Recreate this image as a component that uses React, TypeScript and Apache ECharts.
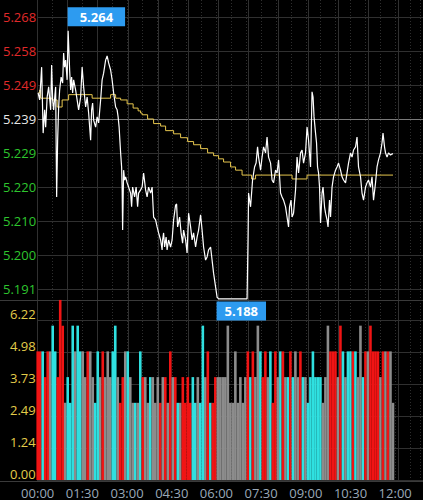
import React, { useEffect, useRef } from "react";
import * as echarts from "echarts";

// ---- axis tick labels ----
const priceTickLabels = ["5.191", "5.200", "5.210", "5.220", "5.229", "5.239", "5.249", "5.258", "5.268"];
const priceBase = 5.1908;
const priceStep = 0.00964;
const volTickLabels = ["0.00", "1.24", "2.49", "3.73", "4.98", "6.22"];
const timeLabels = ["00:00", "01:30", "03:00", "04:30", "06:00", "07:30", "09:00", "10:30", "12:00"];

// ---- price line (minutes since 00:00, price) ----
const priceTimes = [
  0, 3, 7, 10, 13, 15, 18, 21, 25, 27, 29, 31, 35, 37, 39, 41, 43, 46, 49, 51, 53, 55, 58, 60, 63, 65, 67, 69, 71, 75,
  78, 81, 85, 88, 91, 95, 98, 101, 105, 107, 109, 111, 115, 118, 121, 125, 128, 131, 135, 138, 141, 145, 148, 151, 155, 158, 160, 162, 165, 167,
  168, 169, 171, 173, 175, 178, 181, 185, 187, 189, 193, 196, 199, 201, 205, 208, 211, 215, 218, 221, 225, 228, 231, 235, 238, 241, 245, 248, 249, 251,
  253, 256, 258, 261, 265, 268, 271, 275, 277, 279, 283, 286, 289, 291, 295, 298, 301, 305, 308, 311, 315, 318, 321, 325, 328, 331, 335, 338, 341, 345,
  348, 351, 355, 358, 361, 418, 420, 421, 423, 425, 429, 433, 436, 439, 441, 445, 448, 451, 455, 458, 461, 465, 468, 471, 475, 478, 481, 485, 488, 491,
  495, 498, 501, 503, 506, 508, 511, 515, 518, 521, 525, 528, 531, 535, 538, 541, 545, 548, 550, 552, 555, 557, 559, 561, 563, 565, 568, 570, 573, 575,
  578, 580, 583, 585, 588, 591, 595, 598, 601, 605, 608, 611, 615, 618, 621, 625, 628, 631, 635, 638, 641, 645, 648, 651, 655, 658, 661, 665, 668, 671,
  675, 678, 681, 685, 688, 690, 693, 695, 698, 701, 705, 708, 710,
];
const prices = [
  5.2464, 5.2444, 5.2537, 5.2350, 5.2416, 5.2367, 5.2452, 5.2481, 5.2416, 5.2543, 5.2444, 5.2416, 5.2481, 5.2169, 5.2330, 5.2424, 5.2472, 5.2509, 5.2492, 5.2577, 5.2537, 5.2557, 5.2501, 5.2640, 5.2529, 5.2472, 5.2509, 5.2464, 5.2501, 5.2472,
  5.2444, 5.2416, 5.2452, 5.2537, 5.2481, 5.2424, 5.2452, 5.2407, 5.2330, 5.2416, 5.2435, 5.2387, 5.2367, 5.2396, 5.2379, 5.2444, 5.2501, 5.2520, 5.2557, 5.2569, 5.2549, 5.2529, 5.2501, 5.2464, 5.2424, 5.2416, 5.2396, 5.2367, 5.2294, 5.2254,
  5.2197, 5.2075, 5.2245, 5.2217, 5.2226, 5.2209, 5.2197, 5.2180, 5.2141, 5.2197, 5.2169, 5.2197, 5.2141, 5.2180, 5.2189, 5.2197, 5.2237, 5.2189, 5.2169, 5.2197, 5.2180, 5.2197, 5.2112, 5.2104, 5.2084, 5.2067, 5.2047, 5.2019, 5.2047, 5.2067,
  5.2027, 5.2055, 5.2019, 5.2047, 5.2027, 5.2047, 5.2104, 5.2146, 5.2149, 5.2084, 5.2112, 5.2067, 5.2038, 5.2075, 5.2047, 5.2010, 5.2123, 5.2084, 5.2047, 5.2067, 5.2027, 5.2055, 5.2075, 5.2118, 5.2075, 5.2027, 5.1990, 5.1999, 5.2019, 5.2027,
  5.1990, 5.1953, 5.1914, 5.1885, 5.1880, 5.1880, 5.2055, 5.2180, 5.2160, 5.2141, 5.2217, 5.2254, 5.2265, 5.2311, 5.2282, 5.2245, 5.2282, 5.2311, 5.2294, 5.2339, 5.2282, 5.2265, 5.2217, 5.2209, 5.2245, 5.2237, 5.2274, 5.2180, 5.2169, 5.2160,
  5.2141, 5.2112, 5.2084, 5.2141, 5.2160, 5.2112, 5.2123, 5.2189, 5.2282, 5.2237, 5.2294, 5.2302, 5.2265, 5.2294, 5.2367, 5.2330, 5.2254, 5.2467, 5.2452, 5.2396, 5.2350, 5.2322, 5.2254, 5.2237, 5.2197, 5.2095, 5.2180, 5.2197, 5.2141, 5.2123,
  5.2104, 5.2084, 5.2160, 5.2112, 5.2197, 5.2226, 5.2245, 5.2254, 5.2265, 5.2245, 5.2226, 5.2217, 5.2209, 5.2237, 5.2265, 5.2294, 5.2282, 5.2302, 5.2311, 5.2339, 5.2254, 5.2226, 5.2180, 5.2160, 5.2197, 5.2209, 5.2217, 5.2197, 5.2226, 5.2160,
  5.2209, 5.2254, 5.2274, 5.2294, 5.2322, 5.2350, 5.2311, 5.2294, 5.2282, 5.2294, 5.2288, 5.2291, 5.2291,
];

// ---- average price (step line: value holds until next change) ----
const avgTimes = [
  0, 3, 5, 28, 38, 48, 61, 108, 145, 155, 165, 178, 190, 200, 205, 208, 219, 231, 245, 255,
  271, 285, 299, 311, 325, 339, 351, 361, 371, 385, 395, 408, 427, 435, 508, 538, 710,
];
const avgPrices = [
  5.2464, 5.2472, 5.2449, 5.2444, 5.2424, 5.2444, 5.2459, 5.2449, 5.2459, 5.2449, 5.2444, 5.2433, 5.2421, 5.2413, 5.2407, 5.2402, 5.2390, 5.2377, 5.2370, 5.2357,
  5.2348, 5.2337, 5.2326, 5.2317, 5.2306, 5.2294, 5.2286, 5.2277, 5.2268, 5.2254, 5.2245, 5.2231, 5.2220, 5.2231, 5.2220, 5.2231, 5.2231,
];

const highPoint = { t: 60, price: 5.264, label: "5.264" };
const lowPoint = { t: 358, price: 5.188, label: "5.188" };

// ---- volume (5-minute bars); direction 1 up, -1 down, 0 flat ----
const volTimes = [
  0, 5, 10, 15, 20, 25, 30, 35, 40, 45, 50, 55, 60, 65, 70, 75, 80, 85, 90, 95,
  100, 105, 110, 115, 120, 125, 130, 135, 140, 145, 150, 155, 160, 165, 170, 175, 180, 185, 190, 195,
  200, 205, 210, 215, 220, 225, 230, 235, 240, 245, 250, 255, 260, 265, 270, 275, 280, 285, 290, 295,
  300, 305, 310, 315, 320, 325, 330, 335, 340, 345, 350, 355, 360, 365, 370, 375, 380, 385, 390, 395,
  400, 405, 410, 415, 420, 425, 430, 435, 440, 445, 450, 455, 460, 465, 470, 475, 480, 485, 490, 495,
  500, 505, 510, 515, 520, 525, 530, 535, 540, 545, 550, 555, 560, 565, 570, 575, 580, 585, 590, 595,
  600, 605, 610, 615, 620, 625, 630, 635, 640, 645, 650, 655, 660, 665, 670, 675, 680, 685, 690, 695,
  700, 705, 710,
];
const volumes = [
  5, 5, 5, 4, 5, 5, 6, 5, 4, 7, 6, 3, 4, 3, 6, 5, 6, 5, 5, 4,
  5, 5, 4, 3, 5, 4, 5, 4, 5, 4, 5, 6, 4, 3, 4, 5, 5, 4, 3, 3,
  3, 5, 4, 4, 3, 4, 4, 3, 4, 3, 4, 4, 3, 5, 4, 4, 3, 3, 4, 3,
  4, 3, 4, 3, 4, 3, 6, 4, 5, 3, 3, 4, 4, 4, 4, 4, 6, 3, 3, 5,
  3, 4, 3, 4, 5, 4, 5, 4, 6, 5, 4, 5, 4, 5, 3, 5, 4, 5, 5, 4,
  4, 5, 4, 5, 4, 5, 4, 4, 3, 4, 5, 4, 4, 4, 3, 4, 6, 5, 5, 5,
  4, 6, 5, 4, 5, 5, 5, 5, 4, 6, 4, 5, 5, 6, 5, 5, 5, 4, 5, 5,
  5, 5, 3,
];
const directions = [
  1, 1, -1, 1, 1, 0, -1, -1, 1, 1, 1, 0, -1, -1, -1, 0, -1, -1, 0, 0,
  1, 0, 0, -1, -1, 0, 1, 0, 0, 0, -1, -1, 0, 1, 1, 0, -1, 0, 0, -1,
  0, -1, 1, 0, 0, -1, 0, 0, 0, 1, 0, 1, 0, 1, 0, 1, -1, 0, 1, 1,
  1, 1, -1, -1, 0, -1, -1, 0, 1, -1, 1, 1, 0, 0, 0, 0, 0, 0, 0, 0,
  0, 0, 0, 0, 1, -1, 1, 0, 0, -1, 1, 1, 0, -1, 1, 1, 0, -1, 1, 0,
  -1, 1, -1, 0, 0, 1, -1, 0, -1, -1, -1, -1, -1, -1, 0, 0, 0, 1, 1, 1,
  0, 1, -1, 0, -1, -1, 1, -1, 0, 0, -1, 1, 0, 1, 1, 1, 1, 0, 1, 0,
  1, 0, 0,
];

const UP = "#f01414";
const DOWN = "#2fe0e0";
const FLAT = "#8c8c8c";
const GRID_LINE = "#303030";
const FONT = "'Open Sans', 'Noto Sans', sans-serif";

const toIdx = (p: number) => (p - priceBase) / priceStep;

export default function App() {
  const ref = useRef<HTMLDivElement>(null);

  useEffect(() => {
    if (!ref.current) return;
    const chart = echarts.init(ref.current, null, { renderer: "svg" });

    const left = 37.7;
    const xMax = 770;
    const pxPerIdx = 34;

    const priceData = priceTimes.map((t, i) => [t, toIdx(prices[i])]);
    const avgData = avgTimes.map((t, i) => [t, toIdx(avgPrices[i])]);
    const volData = volTimes.map((t, i) => ({
      value: [t, volumes[i]],
      itemStyle: { color: directions[i] > 0 ? UP : directions[i] < 0 ? DOWN : FLAT },
    }));

    const lineColors = priceTickLabels.map((_, i) => (i === 5 ? "#7a7a7a" : GRID_LINE));

    // the low lies below the lowest tick; anchor its label on the axis bottom and offset it down
    const lowIdx = toIdx(lowPoint.price);
    const lowOffset = (0 - lowIdx) * pxPerIdx + 3;

    const boxLabel = {
      show: true,
      color: "#fff",
      fontWeight: "bold",
      fontSize: 13,
      fontFamily: FONT,
      lineHeight: 13,
      backgroundColor: "#2d9bf0",
      align: "left",
    };

    chart.setOption({
      animation: false,
      backgroundColor: "#000",
      grid: [
        { left, right: 0, top: 17, height: 272 },
        { left, right: 0, top: 320, height: 160 },
        { left, right: 0, top: 0, height: 481 },
        { left, right: 0, top: 0, height: 481 },
      ],
      xAxis: [
        { type: "value", gridIndex: 0, min: 0, max: xMax, show: false },
        { type: "value", gridIndex: 1, min: 0, max: xMax, show: false },
        {
          type: "value",
          gridIndex: 2,
          min: 0,
          max: xMax,
          interval: 30,
          axisLine: { show: false },
          axisTick: { show: false },
          splitLine: { show: true, lineStyle: { color: "#2e2e2e", width: 1, type: [1, 2] } },
          axisLabel: {
            show: true,
            margin: 5,
            color: "#9aa8b8",
            fontSize: 13,
            fontFamily: FONT,
            formatter: (v: number) => (v % 90 === 0 && v / 90 < timeLabels.length ? timeLabels[v / 90] : ""),
          },
        },
        {
          type: "value",
          gridIndex: 3,
          min: 0,
          max: xMax,
          interval: 60,
          axisLine: { show: false },
          axisTick: { show: false },
          axisLabel: { show: false },
          splitLine: { show: true, lineStyle: { color: GRID_LINE, width: 1 } },
        },
      ],
      yAxis: [
        {
          type: "value",
          gridIndex: 0,
          min: 0,
          max: 8,
          interval: 1,
          axisLine: { show: false },
          axisTick: { show: false },
          splitLine: { show: true, lineStyle: { color: lineColors, width: 1 } },
          axisLabel: {
            margin: 2,
            fontSize: 13,
            fontFamily: FONT,
            formatter: (v: number) => priceTickLabels[Math.round(v)],
            color: (v: number) => {
              const i = Math.round(v);
              return i > 5 ? "#e02a2a" : i === 5 ? "#e8e8e8" : "#2ec52e";
            },
          },
        },
        {
          type: "value",
          gridIndex: 1,
          min: 0,
          max: 6.22,
          interval: 1.244,
          axisLine: { show: false },
          axisTick: { show: false },
          splitLine: { show: true, lineStyle: { color: GRID_LINE, width: 1 } },
          axisLabel: {
            margin: 2,
            fontSize: 13,
            fontFamily: FONT,
            color: "#e3cc4a",
            verticalAlign: "bottom",
            formatter: (_v: number, i: number) => volTickLabels[i] ?? "",
          },
        },
        { type: "value", gridIndex: 2, min: 0, max: 1, show: false },
        { type: "value", gridIndex: 3, min: 0, max: 1, show: false },
      ],
      graphic: [
        { type: "line", shape: { x1: 0, y1: 300.5, x2: 423, y2: 300.5 }, style: { stroke: "#3a3a3a", lineWidth: 1 }, z: 1 },
        { type: "line", shape: { x1: 0, y1: 481.5, x2: 423, y2: 481.5 }, style: { stroke: "#3a3a3a", lineWidth: 1 }, z: 1 },
      ],
      series: [
        {
          type: "bar",
          xAxisIndex: 1,
          yAxisIndex: 1,
          data: volData,
          barWidth: 2.6,
          clip: false,
        },
        {
          type: "line",
          xAxisIndex: 0,
          yAxisIndex: 0,
          data: avgData,
          step: "end",
          symbol: "none",
          clip: false,
          lineStyle: { color: "#e6c64e", width: 1 },
          z: 3,
        },
        {
          type: "line",
          xAxisIndex: 0,
          yAxisIndex: 0,
          data: priceData,
          symbol: "none",
          clip: false,
          lineStyle: { color: "#ffffff", width: 1.2 },
          z: 4,
          markPoint: {
            symbol: "circle",
            symbolSize: 1,
            itemStyle: { color: "rgba(0,0,0,0)" },
            z: 10,
            data: [
              {
                coord: [highPoint.t, toIdx(highPoint.price)],
                value: highPoint.label,
                label: {
                  ...boxLabel,
                  position: [0, -4],
                  verticalAlign: "bottom",
                  formatter: highPoint.label,
                  padding: [3, 12, 3, 12],
                },
              },
              {
                coord: [lowPoint.t, 0],
                value: lowPoint.label,
                label: {
                  ...boxLabel,
                  position: [0, lowOffset],
                  verticalAlign: "top",
                  formatter: lowPoint.label,
                  padding: [3, 8, 3, 8],
                },
              },
            ],
          },
        },
      ],
    });

    return () => chart.dispose();
  }, []);

  return (
    <div
      ref={ref}
      style={{ position: "fixed", left: 0, top: 0, width: 423, height: 500, background: "#000" }}
    />
  );
}
